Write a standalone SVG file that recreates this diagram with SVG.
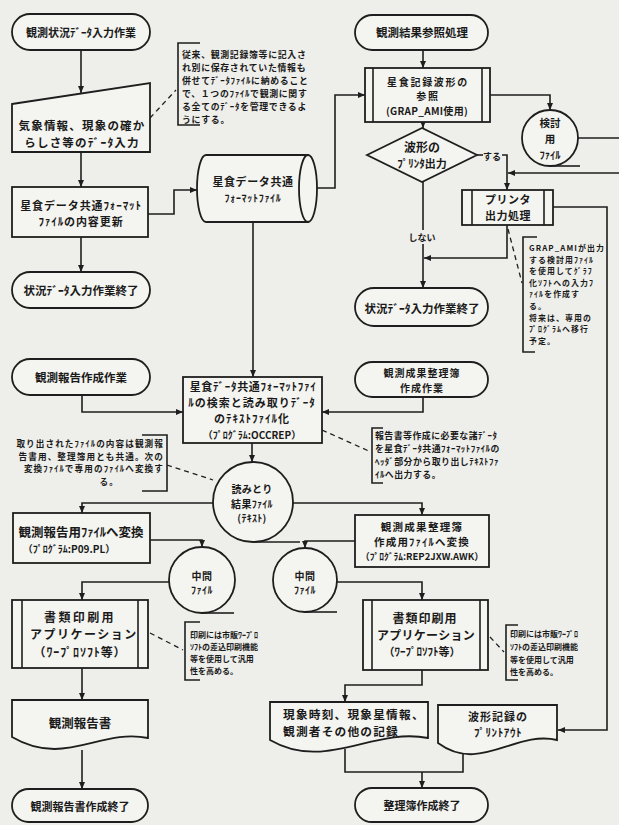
<svg xmlns="http://www.w3.org/2000/svg" width="619" height="825" viewBox="0 0 619 825">
<defs>
<marker id="ah" markerWidth="7" markerHeight="6" refX="7" refY="3" orient="auto" markerUnits="userSpaceOnUse"><path d="M0,0 L7,3 L0,6 Z" fill="#1e1e1e"/></marker>
<style>
.n{fill:#f4f4f0;stroke:#1e1e1e;stroke-width:1.8}
.l{fill:none;stroke:#1e1e1e;stroke-width:1.6}
.a{fill:none;stroke:#1e1e1e;stroke-width:1.6;marker-end:url(#ah)}
.d{fill:none;stroke:#1e1e1e;stroke-width:1.3;stroke-dasharray:5 4}
text{font-family:"Noto Sans CJK JP","Noto Sans",sans-serif;font-weight:700;fill:#1a1a1a;dominant-baseline:central}
.m{text-anchor:middle}
</style>
</defs>
<rect x="0" y="0" width="619" height="825" fill="#eeeeea"/>

<g id="connectors">
<line class="a" x1="81" y1="50" x2="81" y2="93"/>
<line class="a" x1="81" y1="152" x2="81" y2="187"/>
<line class="a" x1="81" y1="237" x2="81" y2="272"/>
<polyline class="a" points="148,214 174,214 174,190 197,190"/>
<polyline class="a" points="317,188 335,188 335,95 365,95"/>
<line class="a" x1="253" y1="222" x2="253" y2="377"/>
<polyline class="a" points="82,395 82,412 183,412"/>
<line class="a" x1="423" y1="50" x2="423" y2="68"/>
<polyline class="a" points="490,95 550,95 550,110"/>
<line class="l" x1="578" y1="138" x2="619" y2="138"/>
<polyline class="a" points="619,173 508,173"/>
<line class="a" x1="423" y1="122" x2="423" y2="128"/>
<line class="l" x1="477" y1="155" x2="483" y2="155"/>
<polyline class="a" points="502,155 507,155 507,190"/>
<polyline class="a" points="553,207 607,207 607,730 558,730"/>
<polyline class="a" points="507,225 507,258 424,258"/>
<line class="a" x1="423" y1="182" x2="423" y2="288"/>
<polyline class="a" points="423,397 423,412 322,412"/>
<line class="a" x1="252" y1="443" x2="252" y2="462"/>
<polyline class="a" points="213,503 82,503 82,513"/>
<polyline class="a" points="293,503 422,503 422,515"/>
<polyline class="a" points="150,540 202,540 202,547"/>
<polyline class="a" points="355,541 305,541 305,548"/>
<polyline class="a" points="169,582 82,582 82,600"/>
<polyline class="a" points="337,582 422,582 422,600"/>
<line class="a" x1="82" y1="668" x2="82" y2="700"/>
<line class="a" x1="82" y1="750" x2="82" y2="789"/>
<polyline class="a" points="422,670 422,685 345,685 345,702"/>
<polyline class="l" points="345,749 345,772 463,772 463,752"/>
<line class="a" x1="422" y1="772" x2="422" y2="788"/>
<line class="d" x1="150" y1="118" x2="176" y2="90"/>
<line class="d" x1="508" y1="229" x2="522" y2="283"/>
<line class="d" x1="322" y1="430" x2="371" y2="452"/>
<line class="d" x1="167" y1="465" x2="213" y2="480"/>
<line class="d" x1="150" y1="633" x2="183" y2="650"/>
<line class="d" x1="490" y1="637" x2="504" y2="652"/>
<rect x="408" y="230" width="30" height="14" fill="#eeeeea"/>
<text class="m" x="422" y="237" font-size="9">しない</text>
<text class="m" x="492" y="156" font-size="9">する</text>
</g>

<g id="t1"><rect class="n" x="12" y="14" width="138" height="36" rx="18"/><text class="m" x="81" y="32" font-size="11">観測状況ﾃﾞｰﾀ入力作業</text></g>
<g id="input1"><path class="n" d="M12,104 L150,83 L150,152 L12,152 Z"/><text class="m" font-size="11.5" letter-spacing="1.2"><tspan x="82" y="125">気象情報、現象の確か</tspan><tspan x="82" y="142">らしさ等のﾃﾞｰﾀ入力</tspan></text></g>
<g id="p1"><rect class="n" x="12" y="187" width="136" height="50"/><text class="m" font-size="11" letter-spacing="0.9"><tspan x="81" y="205">星食データ共通ﾌｫｰﾏｯﾄ</tspan><tspan x="81" y="221">ﾌｧｲﾙの内容更新</tspan></text></g>
<g id="t5"><rect class="n" x="12" y="272" width="138" height="36" rx="18"/><text class="m" x="81" y="290" font-size="11.5">状況ﾃﾞｰﾀ入力作業終了</text></g>
<g id="t6"><rect class="n" x="12" y="359" width="138" height="36" rx="18"/><text class="m" x="81" y="377" font-size="11.5">観測報告作成作業</text></g>

<g id="cyl"><path class="n" d="M308,155 H206 A9,33.5 0 0 0 206,222 H308 Z"/><ellipse class="n" cx="308" cy="188.5" rx="9" ry="33.5"/><text class="m"><tspan x="253" y="181" font-size="11" letter-spacing="0.6">星食データ共通</tspan><tspan x="253" y="197" font-size="10" letter-spacing="0.7">ﾌｫｰﾏｯﾄﾌｧｲﾙ</tspan></text></g>

<g id="note1"><path class="l" d="M200,43 H178 V125 H200"/>
<text font-size="8.9" letter-spacing="0.7"><tspan x="182" y="54">従来、観測記録簿等に記入さ</tspan><tspan x="182" y="67">れ別に保存されていた情報も</tspan><tspan x="182" y="80">併せてﾃﾞｰﾀﾌｧｲﾙに納めること</tspan><tspan x="182" y="93">で、１つのﾌｧｲﾙで観測に関す</tspan><tspan x="182" y="106">る全てのﾃﾞｰﾀを管理できるよ</tspan><tspan x="182" y="119">うにする。</tspan></text></g>

<g id="t2"><rect class="n" x="355" y="15" width="133" height="35" rx="17.5"/><text class="m" x="422" y="32" font-size="11.5">観測結果参照処理</text></g>
<g id="pp1"><rect class="n" x="365" y="68" width="125" height="54"/><line class="l" x1="373" y1="68" x2="373" y2="122"/><line class="l" x1="482" y1="68" x2="482" y2="122"/><text class="m" font-size="10"><tspan x="428" y="80.5" letter-spacing="1.7">星食記録波形の</tspan><tspan x="428" y="95" letter-spacing="1.7">参照</tspan><tspan x="427" y="109.5" letter-spacing="0.3">(GRAP_AMI使用)</tspan></text></g>
<g id="c1"><circle class="n" cx="550" cy="138" r="28"/><line class="l" x1="550" y1="166" x2="580" y2="166"/><text class="m" font-size="10.5"><tspan x="550" y="122">検討</tspan><tspan x="550" y="138">用</tspan><tspan x="550" y="154">ﾌｧｲﾙ</tspan></text></g>
<g id="d1"><path class="n" d="M367,155 L422,128 L477,155 L422,182 Z"/><text class="m"><tspan x="422" y="146" font-size="12">波形の</tspan><tspan x="422" y="163" font-size="11">ﾌﾟﾘﾝﾀ出力</tspan></text></g>
<g id="pp2"><rect class="n" x="462" y="190" width="91" height="35"/><line class="l" x1="472" y1="190" x2="472" y2="225"/><line class="l" x1="544" y1="190" x2="544" y2="225"/><text class="m" font-size="11" letter-spacing="0.5"><tspan x="508" y="199">プリンタ</tspan><tspan x="508" y="215">出力処理</tspan></text></g>
<g id="note2"><path class="l" d="M537,237 H523 V352 H535"/>
<text font-size="7.9" letter-spacing="1.1"><tspan x="529" y="247">GRAP_AMIが出力</tspan><tspan x="529" y="258.6">する検討用ﾌｧｲﾙ</tspan><tspan x="529" y="270.2">を使用してｸﾞﾗﾌ</tspan><tspan x="529" y="281.8">化ｿﾌﾄへの入力ﾌ</tspan><tspan x="529" y="293.4">ｧｲﾙを作成す</tspan><tspan x="529" y="305">る。</tspan><tspan x="529" y="316.6">将来は、専用の</tspan><tspan x="529" y="328.2">ﾌﾟﾛｸﾞﾗﾑへ移行</tspan><tspan x="529" y="339.8">予定。</tspan></text></g>
<g id="t3"><rect class="n" x="355" y="288" width="133" height="38" rx="19"/><text class="m" x="422" y="308" font-size="11.5">状況ﾃﾞｰﾀ入力作業終了</text></g>
<g id="t4"><rect class="n" x="355" y="362" width="133" height="35" rx="17.5"/><text class="m" font-size="10" letter-spacing="1"><tspan x="422" y="372">観測成果整理簿</tspan><tspan x="422" y="386.5">作成作業</tspan></text></g>

<g id="b1"><rect class="n" x="183" y="377" width="139" height="66"/><text class="m"><tspan x="253" y="386" font-size="11" letter-spacing="0.7">星食ﾃﾞｰﾀ共通ﾌｫｰﾏｯﾄﾌｧｲ</tspan><tspan x="252" y="402" font-size="11" letter-spacing="1">ﾙの検索と読み取りﾃﾞｰﾀ</tspan><tspan x="252" y="418" font-size="11" letter-spacing="1">のﾃｷｽﾄﾌｧｲﾙ化</tspan><tspan x="252" y="433.5" font-size="10">（ﾌﾟﾛｸﾞﾗﾑ:OCCREP）</tspan></text></g>
<g id="note3"><path class="l" d="M383,428 H372 V483 H383"/>
<text font-size="8.9" letter-spacing="0.5"><tspan x="375" y="435">報告書等作成に必要な諸ﾃﾞｰﾀ</tspan><tspan x="375" y="448">を星食ﾃﾞｰﾀ共通ﾌｫｰﾏｯﾄﾌｧｲﾙの</tspan><tspan x="375" y="461">ﾍｯﾀﾞ部分から取り出しﾃｷｽﾄﾌｧ</tspan><tspan x="375" y="474">ｲﾙへ出力する。</tspan></text></g>
<g id="note4"><path class="l" d="M142,435 H167 V491 H142"/>
<text font-size="8.6" letter-spacing="1.1" text-anchor="end"><tspan x="164" y="443">取り出されたﾌｧｲﾙの内容は観測報</tspan><tspan x="164" y="455.5">告書用、整理簿用とも共通。次の</tspan><tspan x="164" y="468">変換ﾌｧｲﾙで専用のﾌｧｲﾙへ変換す</tspan><tspan x="119" y="480.5">る。</tspan></text></g>
<g id="c2"><circle class="n" cx="253" cy="502" r="40"/><line class="l" x1="253" y1="542" x2="300" y2="542"/><text class="m" font-size="10" letter-spacing="0.3"><tspan x="252" y="488">読みとり</tspan><tspan x="252" y="502.5">結果ﾌｧｲﾙ</tspan><tspan x="252" y="517">(ﾃｷｽﾄ)</tspan></text></g>

<g id="b2"><rect class="n" x="13" y="513" width="137" height="50"/><text class="m"><tspan x="81" y="531" font-size="12.5">観測報告用ﾌｧｲﾙへ変換</tspan><tspan x="69" y="548" font-size="10">（ﾌﾟﾛｸﾞﾗﾑ:P09.PL）</tspan></text></g>
<g id="b3"><rect class="n" x="355" y="515" width="134" height="52"/><text class="m"><tspan x="422" y="526" font-size="10.5" letter-spacing="1.3">観測成果整理簿</tspan><tspan x="422" y="541.2" font-size="10.5" letter-spacing="1.2">作成用ﾌｧｲﾙへ変換</tspan><tspan x="422" y="555.6" font-size="9.5">（ﾌﾟﾛｸﾞﾗﾑ:REP2JXW.AWK）</tspan></text></g>
<g id="c3"><circle class="n" cx="202" cy="580" r="33"/><line class="l" x1="202" y1="613" x2="234" y2="613"/><text class="m" font-size="10" letter-spacing="0.5"><tspan x="202" y="574.5">中間</tspan><tspan x="202" y="589">ﾌｧｲﾙ</tspan></text></g>
<g id="c4"><circle class="n" cx="305" cy="580" r="32"/><line class="l" x1="305" y1="612" x2="337" y2="612"/><text class="m" font-size="10" letter-spacing="0.5"><tspan x="305" y="574.5">中間</tspan><tspan x="305" y="589">ﾌｧｲﾙ</tspan></text></g>

<g id="pp3"><rect class="n" x="12" y="600" width="136" height="68"/><line class="l" x1="22" y1="600" x2="22" y2="668"/><line class="l" x1="138" y1="600" x2="138" y2="668"/><text class="m" font-size="12"><tspan x="80" y="616" letter-spacing="2.4">書類印刷用</tspan><tspan x="84" y="633.4" letter-spacing="1.5">アプリケーション</tspan><tspan x="80" y="650.8" letter-spacing="0.9">（ﾜｰﾌﾟﾛｿﾌﾄ等）</tspan></text></g>
<g id="note5"><path class="l" d="M200,622 H185 V680 H200"/>
<text font-size="8"><tspan x="190" y="634">印刷には市販ﾜｰﾌﾟﾛ</tspan><tspan x="190" y="646">ｿﾌﾄの差込印刷機能</tspan><tspan x="190" y="658">等を使用して汎用</tspan><tspan x="190" y="670">性を高める。</tspan></text></g>
<g id="pp4"><rect class="n" x="363" y="600" width="125" height="70"/><line class="l" x1="372" y1="600" x2="372" y2="670"/><line class="l" x1="480" y1="600" x2="480" y2="670"/><text class="m"><tspan x="425" y="617" font-size="12" letter-spacing="1">書類印刷用</tspan><tspan x="426" y="634" font-size="12" letter-spacing="0.3">アプリケーション</tspan><tspan x="422" y="651" font-size="11">（ﾜｰﾌﾟﾛｿﾌﾄ等）</tspan></text></g>
<g id="note6"><path class="l" d="M518,625 H506 V680 H518"/>
<text font-size="8"><tspan x="510" y="633">印刷には市販ﾜｰﾌﾟﾛ</tspan><tspan x="510" y="646">ｿﾌﾄの差込印刷機能</tspan><tspan x="510" y="659">等を使用して汎用</tspan><tspan x="510" y="671">性を高める。</tspan></text></g>

<g id="doc1"><path class="n" d="M12,700 H148 V738 C100,728 65,768 12,737 Z"/><text class="m" x="80" y="722" font-size="12.5">観測報告書</text></g>
<g id="t7"><rect class="n" x="12" y="789" width="136" height="33" rx="16.5"/><text class="m" x="80" y="806" font-size="11">観測報告書作成終了</text></g>
<g id="doc2"><path class="n" d="M270,702 H428 V738 C373,727 325,772 270,740 Z"/><text font-size="11.7" letter-spacing="1.2"><tspan x="283" y="713">現象時刻、現象星情報、</tspan><tspan x="283" y="730">観測者その他の記録</tspan></text></g>
<g id="doc3"><path class="n" d="M438,705 H557 V740 C515,730 480,774 438,743 Z"/><text class="m" font-size="11"><tspan x="498" y="716" letter-spacing="1">波形記録の</tspan><tspan x="498" y="732" letter-spacing="0.6">ﾌﾟﾘﾝﾄｱｳﾄ</tspan></text></g>
<g id="t8"><rect class="n" x="355" y="788" width="133" height="34" rx="17"/><text class="m" x="422" y="805" font-size="11">整理簿作成終了</text></g>
</svg>
